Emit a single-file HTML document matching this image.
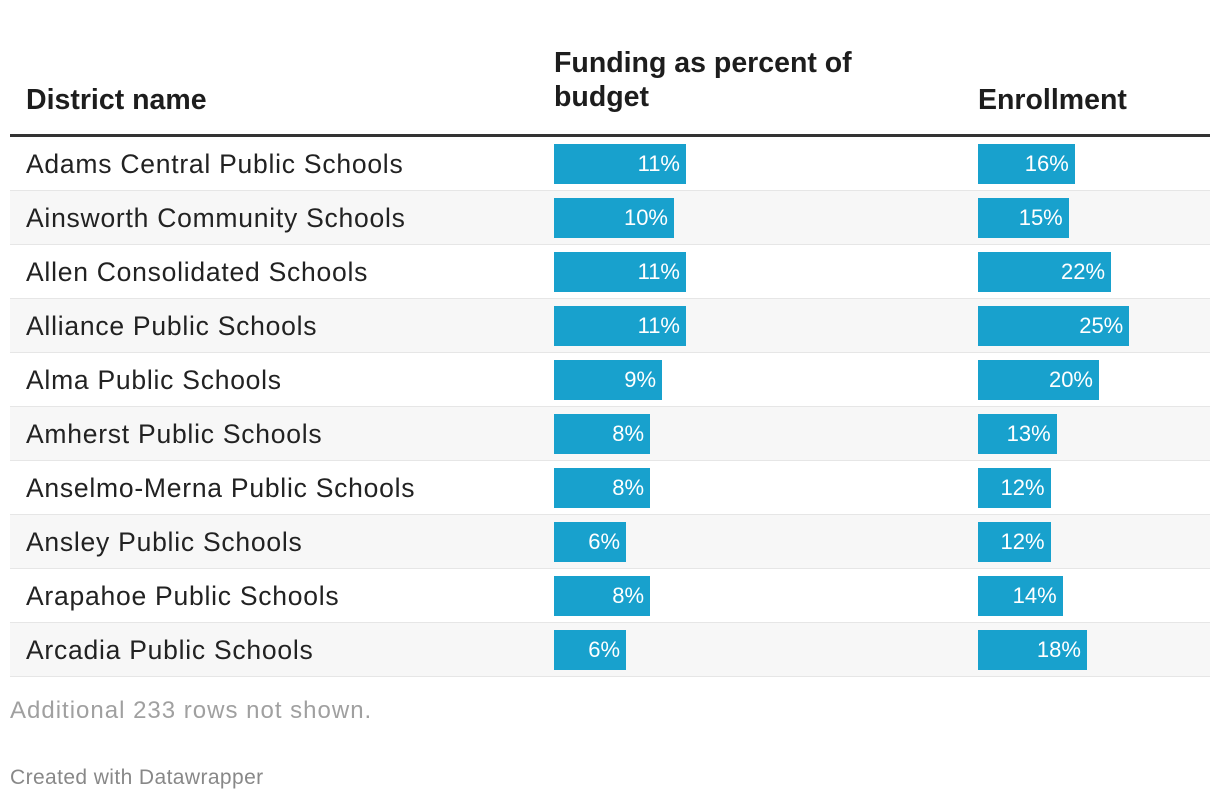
<!DOCTYPE html>
<html><head><meta charset="utf-8"><style>
body{margin:0;width:1220px;height:802px;background:#fff;font-family:"Liberation Sans",sans-serif;position:relative;overflow:hidden}
.abs{position:absolute}
.h{font-weight:bold;font-size:28.5px;color:#1d1d1d;line-height:34px}
.row{position:absolute;left:10px;width:1200px;height:53px;border-bottom:1px solid #e6e6e6}
.name{position:absolute;left:16px;top:0;line-height:54px;font-size:26.5px;letter-spacing:0.75px;color:#222}
.bar{position:absolute;top:7px;height:40px;background:#18a1cd;color:#fff;font-size:22px;line-height:40px;text-align:right;box-sizing:border-box;padding-right:6px}
</style></head><body>
<div class="abs h" style="left:26px;top:83px">District name</div>
<div class="abs h" style="left:554px;top:46px">Funding as percent of<br>budget</div>
<div class="abs h" style="left:978px;top:83px">Enrollment</div>
<div class="abs" style="left:10px;top:134px;width:1200px;height:3px;background:#333"></div>
<div id="rows"></div>
<div class="abs" style="left:10px;top:697px;font-size:24px;letter-spacing:1px;color:#a0a0a0">Additional 233 rows not shown.</div>
<div class="abs" style="left:10px;top:766px;font-size:21px;letter-spacing:0.4px;color:#888">Created with Datawrapper</div>
<script>
const names=["Adams Central Public Schools","Ainsworth Community Schools","Allen Consolidated Schools","Alliance Public Schools","Alma Public Schools","Amherst Public Schools","Anselmo-Merna Public Schools","Ansley Public Schools","Arapahoe Public Schools","Arcadia Public Schools"];
const funding=[11,10,11,11,9,8,8,6,8,6];
const enrollment=[16,15,22,25,20,13,12,12,14,18];
const fx=v=>v*12, ex=v=>v*6.05;
const c=document.getElementById('rows');
names.forEach((n,i)=>{
 const r=document.createElement('div');r.className='row';
 
 
 r.style.top=(137+i*54)+'px';r.style.background=i%2?'#f7f7f7':'#fff';
 const t=document.createElement('div');t.className='name';t.textContent=n;
 
 
 r.appendChild(t);
 const b1=document.createElement('div');b1.className='bar';
 
 
 b1.style.left='544px';b1.style.width=fx(funding[i])+'px';b1.textContent=funding[i]+'%';r.appendChild(b1);
 const b2=document.createElement('div');b2.className='bar';
 
 
 b2.style.left='968px';b2.style.width=ex(enrollment[i])+'px';b2.textContent=enrollment[i]+'%';r.appendChild(b2);
 c.appendChild(r);
});
</script>
</body></html>
